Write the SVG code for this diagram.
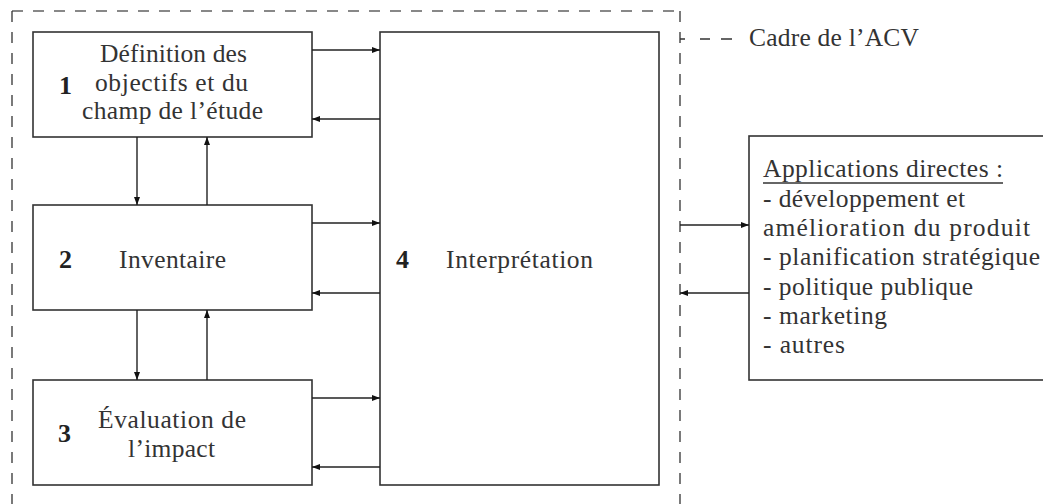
<svg xmlns="http://www.w3.org/2000/svg" width="1043" height="504" viewBox="0 0 1043 504">
<defs>
<marker id="ah" viewBox="0 0 8 6" refX="8" refY="3" markerWidth="8" markerHeight="6" markerUnits="userSpaceOnUse" orient="auto">
<path d="M0,0 L8,3 L0,6 Z" fill="#111"/>
</marker>
<style>
.box{fill:#fff;stroke:#333;stroke-width:1.6}
.t{font-family:"Liberation Serif","Times New Roman",serif;font-size:25.5px;fill:#333}
.n{font-family:"Liberation Serif","Times New Roman",serif;font-size:26px;font-weight:bold;fill:#222}
.c{fill:none;stroke:#222;stroke-width:1.4;marker-end:url(#ah)}
.fh{fill:none;stroke:#888;stroke-width:2.2;stroke-dasharray:11 10}
.fv{fill:none;stroke:#333;stroke-width:1.3;stroke-dasharray:11 10}
</style>
</defs>
<rect width="1043" height="504" fill="#fff"/>
<g id="frame">
<line class="fh" x1="12" y1="11" x2="680" y2="11"/>
<line class="fv" x1="12" y1="11" x2="12" y2="510"/>
<line class="fv" x1="680" y1="11" x2="680" y2="510"/>
</g>
<g id="legend">
<path d="M680,39 h5 M700,39 h10 M721,39 h11" stroke="#333" stroke-width="1.4" fill="none"/>
<text class="t" x="749" y="46" textLength="170">Cadre de l’ACV</text>
</g>
<g id="n1">
<rect class="box" x="33" y="32" width="279" height="105"/>
<text class="n" x="59" y="94">1</text>
<text class="t" x="173.5" y="62" text-anchor="middle" textLength="147">Définition des</text>
<text class="t" x="171.5" y="90.5" text-anchor="middle" textLength="153">objectifs et du</text>
<text class="t" x="172.5" y="119" text-anchor="middle" textLength="181">champ de l’étude</text>
</g>
<g id="n2">
<rect class="box" x="33" y="205" width="279" height="105"/>
<text class="n" x="59" y="267.5">2</text>
<text class="t" x="172.5" y="268" text-anchor="middle" textLength="107">Inventaire</text>
</g>
<g id="n3">
<rect class="box" x="33" y="380" width="279" height="105"/>
<text class="n" x="58" y="442">3</text>
<text class="t" x="172" y="428" text-anchor="middle" textLength="148">Évaluation de</text>
<text class="t" x="171.5" y="457" text-anchor="middle" textLength="87">l’impact</text>
</g>
<g id="n4">
<rect class="box" x="380" y="32" width="279" height="453"/>
<text class="n" x="396" y="268">4</text>
<text class="t" x="446" y="268" textLength="147">Interprétation</text>
</g>
<g id="apps">
<rect class="box" x="749" y="136" width="320" height="244"/>
<text class="t" x="763" y="177" textLength="240">Applications directes :</text>
<line x1="763" y1="183" x2="1003" y2="183" stroke="#333" stroke-width="1.3"/>
<text class="t" x="763" y="206.5" textLength="202">- développement et</text>
<text class="t" x="763" y="236" textLength="267">amélioration du produit</text>
<text class="t" x="763" y="265" textLength="277">- planification stratégique</text>
<text class="t" x="763" y="294.5" textLength="210">- politique publique</text>
<text class="t" x="763" y="324" textLength="124">- marketing</text>
<text class="t" x="763" y="353" textLength="82">- autres</text>
</g>
<g id="connectors">
<path class="c" d="M312,50 H380"/>
<path class="c" d="M380,119 H312"/>
<path class="c" d="M312,223 H380"/>
<path class="c" d="M380,293 H312"/>
<path class="c" d="M312,398 H380"/>
<path class="c" d="M380,467 H312"/>
<path class="c" d="M137,137 V205"/>
<path class="c" d="M207,205 V137"/>
<path class="c" d="M137,310 V380"/>
<path class="c" d="M207,380 V310"/>
<path class="c" d="M680,225 H749"/>
<path class="c" d="M749,293 H680"/>
</g>
</svg>
